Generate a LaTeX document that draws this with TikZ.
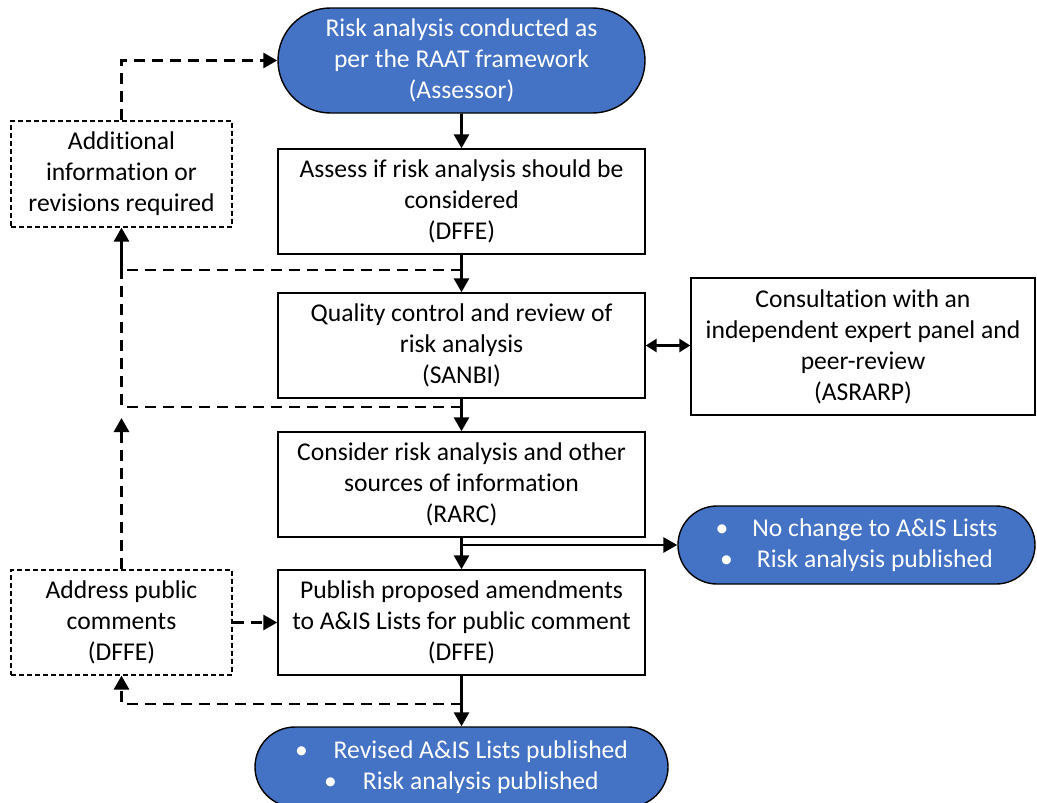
\documentclass[tikz,border=0pt]{standalone}
\usepackage{fontspec}
\setmainfont{Carlito}[RawFeature={-liga;-calt;-clig}]
\usetikzlibrary{arrows.meta,shapes.misc}
\definecolor{pblue}{HTML}{4472C4}
\begin{document}
\begin{tikzpicture}[x=1pt,y=-1pt,
  txt/.style={align=center,inner sep=0pt,font=\fontsize{25.6}{31}\selectfont},
  procbox/.style={txt,draw=black,line width=1.4pt,rectangle,minimum width=367pt,minimum height=105pt},
  optbox/.style={txt,draw=black,line width=1.2pt,dash pattern=on 5pt off 3pt,rectangle,minimum width=221pt,minimum height=106pt},
  term/.style={txt,draw=black,line width=1.4pt,fill=pblue,text=white,rounded rectangle},
  conn/.style={line width=2.8pt,-{Triangle[width=15pt,length=14pt]}},
  dconn/.style={conn,dash pattern=on 11pt off 7pt},
  dline/.style={line width=2.8pt,dash pattern=on 11pt off 7pt},
  both/.style={line width=2.8pt,{Triangle[width=13pt,length=11pt]}-{Triangle[width=13pt,length=11pt]}}]
\useasboundingbox (0,0) rectangle (1037,803);
\node[term,minimum width=367pt,minimum height=105pt] (top) at (461.5,60.5) {Risk analysis conducted as\\per the RAAT framework\\(Assessor)};
\node[procbox] (b1) at (461.5,201.5) {Assess if risk analysis should be\\considered\\(DFFE)};
\node[procbox] (b2) at (461.5,345.5) {Quality control and review of\\risk analysis\\(SANBI)};
\node[procbox] (b3) at (461.5,484.5) {Consider risk analysis and other\\sources of information\\(RARC)};
\node[procbox] (b4) at (461.5,622.5) {Publish proposed amendments\\to A\&IS Lists for public comment\\(DFFE)};
\node[procbox,minimum width=344pt,minimum height=137pt] (cons) at (863,346.5) {Consultation with an\\independent expert panel and\\peer-review\\(ASRARP)};
\node[optbox] (add) at (121.5,174) {Additional\\information or\\revisions required};
\node[optbox,minimum height=105pt] (addr) at (121.5,622.5) {Address public\\comments\\(DFFE)};
\node[term,minimum width=357pt,minimum height=78pt] (endR) at (856.5,545) {\textbullet\hspace{24pt}No change to A\&IS Lists\\\textbullet\hspace{24pt}Risk analysis published};
\node[term,minimum width=413pt,minimum height=80pt] (endB) at (461.5,767) {\textbullet\hspace{26pt}Revised A\&IS Lists published\\\textbullet\hspace{26pt}Risk analysis published};
% main flow
\draw[conn] (top) -- (b1);
\draw[conn] (b1) -- (b2);
\draw[conn] (b2) -- (b3);
\draw[conn] (b3) -- (b4);
\draw[conn] (b4) -- (endB);
\coordinate (j1) at (461.5,545);
\draw[conn] (j1) -- (endR);
\draw[both] (b2.east) -- (b2.east -| cons.west);
% feedback loops
\coordinate (d1) at (461.5,270);
\coordinate (c1) at (121.5,270);
\coordinate (d2) at (461.5,407);
\coordinate (up2) at (121.5,418);
\coordinate (d3) at (461.5,704);
\draw[dline] (d1) -- (c1);
\draw[conn] (c1) -- (add.south);
\draw[dline] (d2) -| (c1);
\draw[dconn] (addr.north) -- (up2);
\draw[dconn] (addr.east) -- (b4.west);
\draw[dconn] (d3) -| (addr.south);
\draw[dconn] (add.north) |- (top.west);
\end{tikzpicture}
\end{document}
